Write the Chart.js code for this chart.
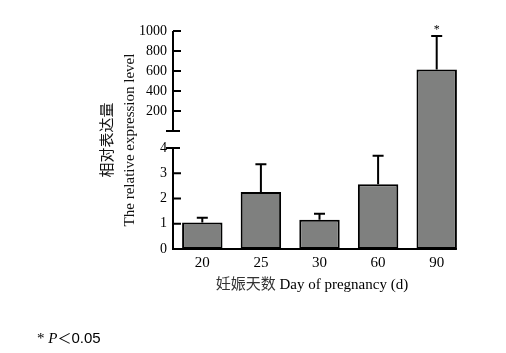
<!DOCTYPE html>
<html>
<head>
<meta charset="utf-8">
<script src="https://cdn.jsdelivr.net/npm/chart.js@4.4.1/dist/chart.umd.min.js"></script>
<style>
  html, body { margin: 0; padding: 0; background: #fff; }
  #wrap { position: relative; width: 506px; height: 353px; overflow: hidden; }
  #c { position: absolute; left: 0; top: 0; }
  #note { position: absolute; left: 37px; top: 327px; font: 15px 'Liberation Serif', serif; color: #000; white-space: nowrap; }
  #note i { font-family: 'Liberation Serif', serif; }
  #note .lt { font-family: 'Noto Sans CJK SC', sans-serif; font-size: 14px; }
  #note .num { font-family: 'Liberation Sans', sans-serif; font-size: 15px; }
</style>
</head>
<body>
<div id="wrap">
  <canvas id="c" width="506" height="353"></canvas>
  <div id="note">* <i>P</i><span class="lt">＜</span><span class="num">0.05</span></div>
</div>
<script>
// ---- data ----
const categories = ['20', '25', '30', '60', '90'];
const means = [1.05, 2.26, 1.16, 2.56, 615];
const errors = [0.19, 1.10, 0.24, 1.13, 335];
const marks = ['', '', '', '', '*'];
const lowerTicks = [0, 1, 2, 3, 4];
const upperTicks = [200, 400, 600, 800, 1000];
const breakLow = 4;      // top of lower segment
const upperMin = 0;      // bottom of upper segment
const upperMax = 1000;   // top of upper segment

const xTitleCn = '妊娠天数';
const xTitleEn = 'Day of pregnancy (d)';
const yTitle = ['相对表达量', 'The relative expression level'];

// ---- broken linear scale ----
class BrokenLinearScale extends Chart.LinearScale {
  static id = 'brokenLinear';
  static defaults = Chart.LinearScale.defaults;
  buildTicks() {
    return lowerTicks.concat(upperTicks).map(v => ({ value: v }));
  }
  _seg() {
    const o = this.options;
    const H = this.bottom - this.top;
    return {
      lowBottom: this.bottom,
      lowTop: this.bottom - H * o.lowerFraction,
      upBottom: this.top + H * o.upperFraction,
      upTop: this.top
    };
  }
  upperBasePixel() { return this._seg().upBottom; }
  getPixelForValue(value) {
    const s = this._seg();
    if (value <= breakLow) {
      return s.lowBottom - (value / breakLow) * (s.lowBottom - s.lowTop);
    }
    return s.upBottom - ((value - upperMin) / (upperMax - upperMin)) * (s.upBottom - s.upTop);
  }
  getValueForPixel(pixel) {
    const s = this._seg();
    if (pixel >= s.lowTop) {
      return (s.lowBottom - pixel) / (s.lowBottom - s.lowTop) * breakLow;
    }
    return upperMin + (s.upBottom - pixel) / (s.upBottom - s.upTop) * (upperMax - upperMin);
  }
}
Chart.register(BrokenLinearScale);

const serif = "'Liberation Serif', 'Noto Sans CJK SC', serif";

const decor = {
  id: 'decor',
  afterDatasetsDraw(chart) {
    const ctx = chart.ctx;
    const ys = chart.scales.y;
    const xs = chart.scales.x;
    const meta = chart.getDatasetMeta(0);
    const left = chart.chartArea.left;
    ctx.save();
    ctx.strokeStyle = '#000';
    ctx.fillStyle = '#000';
    ctx.lineWidth = 2;
    // error bars + significance marks
    meta.data.forEach((bar, i) => {
      const top = ys.getPixelForValue(means[i] + errors[i]);
      ctx.beginPath();
      ctx.moveTo(bar.x, bar.y);
      ctx.lineTo(bar.x, top);
      ctx.moveTo(bar.x - 5.5, top);
      ctx.lineTo(bar.x + 5.5, top);
      ctx.stroke();
      if (marks[i]) {
        ctx.font = '12px ' + serif;
        ctx.textAlign = 'center';
        ctx.textBaseline = 'middle';
        ctx.fillText(marks[i], bar.x, top - 6);
      }
    });
    // x axis line
    const last = meta.data[meta.data.length - 1];
    const lastRight = last.x + last.width / 2;
    const y0 = ys.getPixelForValue(0);
    ctx.beginPath();
    ctx.moveTo(left - 1, y0);
    ctx.lineTo(lastRight, y0);
    ctx.stroke();
    // y axis: lower segment
    const lowTop = ys.getPixelForValue(breakLow);
    ctx.beginPath();
    ctx.moveTo(left, y0);
    ctx.lineTo(left, lowTop);
    // upper segment
    const upBase = ys.upperBasePixel();
    ctx.moveTo(left, upBase);
    ctx.lineTo(left, ys.getPixelForValue(upperMax));
    ctx.stroke();
    // ticks
    ctx.beginPath();
    ys.ticks.forEach(t => {
      const p = ys.getPixelForValue(t.value);
      if (t.value === 0) return;
      if (t.value === breakLow) {
        ctx.moveTo(left - 7, p); ctx.lineTo(left + 7, p);
      } else {
        ctx.moveTo(left, p); ctx.lineTo(left + 8, p);
      }
    });
    // break cap on upper segment
    ctx.moveTo(left - 7, upBase); ctx.lineTo(left + 7, upBase);
    ctx.stroke();

    // x axis title (centered under the drawn axis line)
    ctx.font = '15px ' + serif;
    ctx.textBaseline = 'middle';
    ctx.textAlign = 'left';
    const sp = ctx.measureText(' ').width;
    const wCn = ctx.measureText(xTitleCn).width;
    const wEn = ctx.measureText(xTitleEn).width;
    const total = wCn + sp + wEn;
    const cx = (left + lastRight) / 2 - 3;
    const ty = xs.bottom - 10;
    let tx = cx - total / 2;
    ctx.fillStyle = '#333';
    ctx.fillText(xTitleCn, tx, ty);
    ctx.fillStyle = '#000';
    ctx.fillText(xTitleEn, tx + wCn + sp, ty);
    ctx.restore();
  }
};

new Chart(document.getElementById('c'), {
  type: 'bar',
  data: {
    labels: categories,
    datasets: [{
      data: means,
      backgroundColor: '#7f807f',
      borderColor: '#000',
      borderWidth: 2,
      borderSkipped: false,
      categoryPercentage: 1,
      barPercentage: 0.69
    }]
  },
  options: {
    responsive: false,
    devicePixelRatio: 1,
    animation: false,
    events: [],
    layout: { padding: { top: 31, left: 97, right: 40, bottom: 58 } },
    plugins: { legend: { display: false }, tooltip: { enabled: false } },
    scales: {
      x: {
        type: 'category',
        offset: true,
        grid: { display: false, drawTicks: false },
        border: { display: false },
        ticks: { color: '#000', font: { family: serif, size: 15 }, padding: 5, maxRotation: 0 },
        title: { display: false },
        afterFit(s) { s.height = 46; }
      },
      y: {
        type: 'brokenLinear',
        min: 0,
        max: upperMax,
        lowerFraction: 0.4633,
        upperFraction: 0.4587,
        grid: { display: false, drawTicks: false },
        border: { display: false },
        ticks: { color: '#000', font: { family: serif, size: 14 }, padding: 6, autoSkip: false, callback: v => String(v) },
        title: { display: true, text: yTitle, color: '#111', font: { family: serif, size: 15, lineHeight: 1.45 }, padding: 0 },
        afterFit(s) { s.width = 76; }
      }
    }
  },
  plugins: [decor]
});
</script>
</body>
</html>
